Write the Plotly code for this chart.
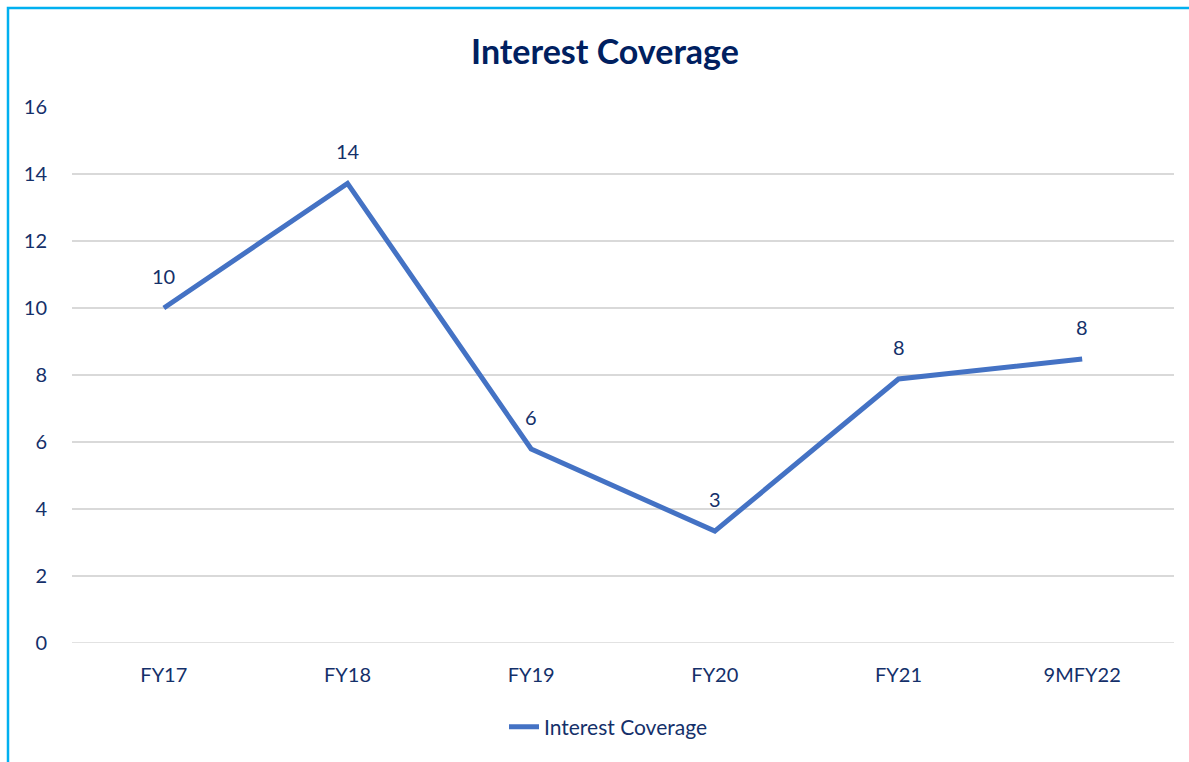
import plotly.graph_objects as go

categories = ["FY17", "FY18", "FY19", "FY20", "FY21", "9MFY22"]
values = [10.0, 13.72, 5.79, 3.34, 7.88, 8.48]
labels = [f"{v:.0f}" for v in values]
y_ticks = [0, 2, 4, 6, 8, 10, 12, 14, 16]

NAVY = "#002060"
TXT = "#14306A"
FONT = "Lato, 'Open Sans', sans-serif"
GRID = "#D9D9D9"

fig = go.Figure()

# baseline gridline at 0 (plotly hides the gridline at the range edge)
fig.add_shape(type="line", xref="paper", yref="y", x0=0, x1=1,
              y0=y_ticks[0], y1=y_ticks[0], line=dict(color=GRID, width=1.5),
              layer="below")

fig.add_trace(go.Scatter(
    x=categories, y=values, mode="lines", name="Interest Coverage",
    line=dict(color="#4472C4", width=5),
))

for c, v, t in zip(categories, values, labels):
    fig.add_annotation(x=c, y=v, text=t, showarrow=False, yshift=32,
                       font=dict(family=FONT, size=20, color=TXT))

W, H = 1189, 762
L, R, T, B = 72, 15, 107, 119
pw, ph = W - L - R, H - T - B

# cyan chart border (left and top edges visible)
bx = (8 - L) / pw
by = 1 + (T - 8) / ph
fig.add_shape(type="rect", xref="paper", yref="paper",
              x0=bx, x1=1.2, y0=-0.5, y1=by,
              line=dict(color="#00B0F0", width=2.5), layer="above")

fig.update_layout(
    width=W, height=H,
    margin=dict(l=L, r=R, t=T, b=B, autoexpand=False),
    paper_bgcolor="white", plot_bgcolor="white",
    font=dict(family=FONT, size=20, color=TXT),
    title=dict(text="<b>Interest Coverage</b>", x=(605 - L) / pw, xref="paper",
               xanchor="center", y=1 - 52 / H, yref="container", yanchor="middle",
               font=dict(family=FONT, size=34, color=NAVY)),
    showlegend=True,
    legend=dict(orientation="h", x=(608 - L) / pw, xanchor="center",
                y=-(727 - 643) / ph, yanchor="middle",
                font=dict(family=FONT, size=21, color=TXT)),
    xaxis=dict(showgrid=False, showline=False, zeroline=False,
               range=[-0.5, len(categories) - 0.5],
               ticks="outside", ticklen=14, tickcolor="rgba(0,0,0,0)",
               tickfont=dict(family=FONT, size=20, color=TXT)),
    yaxis=dict(range=[0, 16], tickvals=y_ticks, showgrid=True,
               gridcolor=GRID, gridwidth=1.5,
               zeroline=False, showline=False,
               ticks="outside", ticklen=20, tickcolor="rgba(0,0,0,0)",
               tickfont=dict(family=FONT, size=20, color=TXT)),
)

fig.write_html("out.html")
